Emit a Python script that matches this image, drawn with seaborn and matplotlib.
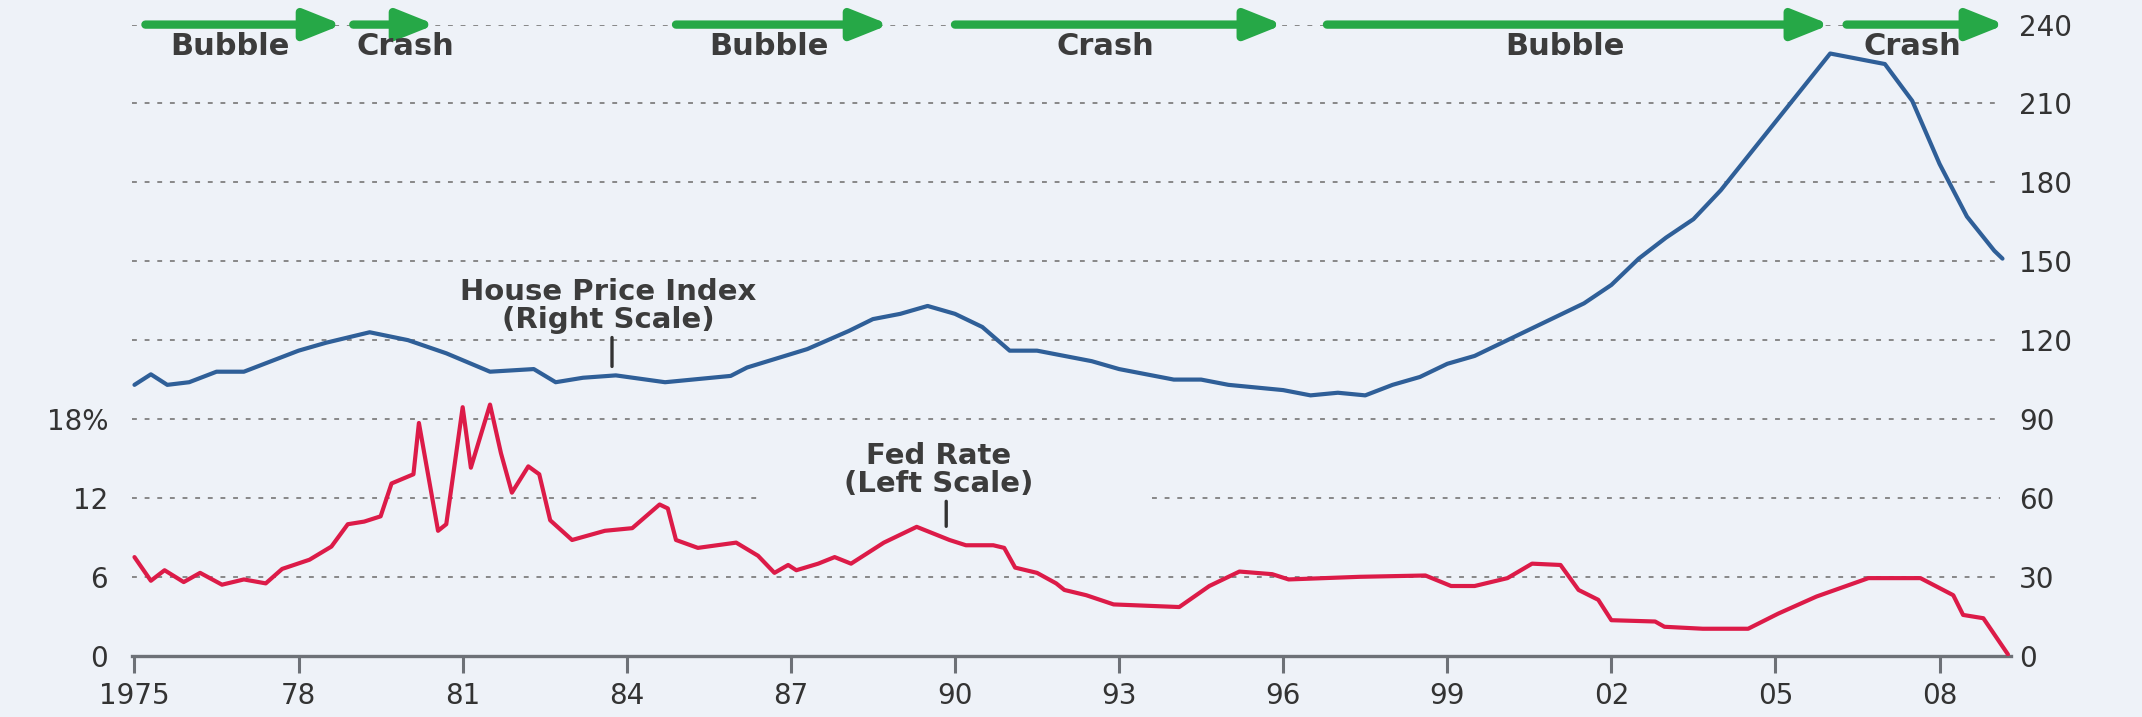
import matplotlib
matplotlib.use("Agg")
import matplotlib.pyplot as plt
import seaborn as sns
import pandas as pd

# Fed funds rate, left scale (%)
fed_year = [1975.0, 1975.3, 1975.55, 1975.9, 1976.2, 1976.6, 1977.0, 1977.4, 1977.7, 1978.2,
            1978.6, 1978.9, 1979.2, 1979.5, 1979.7, 1980.1, 1980.2, 1980.55, 1980.7, 1981.0,
            1981.15, 1981.5, 1981.7, 1981.9, 1982.2, 1982.4, 1982.6, 1983.0, 1983.6, 1984.1,
            1984.6, 1984.75, 1984.9, 1985.3, 1986.0, 1986.4, 1986.7, 1986.95, 1987.1, 1987.5,
            1987.8, 1988.1, 1988.7, 1989.3, 1989.9, 1990.2, 1990.7, 1990.9, 1991.1, 1991.5,
            1991.85, 1992.0, 1992.4, 1992.9, 1994.1, 1994.65, 1995.2, 1995.8, 1996.1, 1997.4,
            1998.6, 1999.07, 1999.5, 2000.1, 2000.55, 2001.07, 2001.4, 2001.76, 2002.0, 2002.8,
            2002.97, 2003.67, 2004.5, 2005.05, 2005.75, 2006.7, 2007.65, 2008.25, 2008.43, 2008.8,
            2009.25]
fed_rate = [7.5, 5.7, 6.5, 5.6, 6.3, 5.4, 5.8, 5.5, 6.6, 7.3,
            8.3, 10.0, 10.2, 10.6, 13.1, 13.8, 17.7, 9.5, 10.0, 18.9,
            14.3, 19.1, 15.4, 12.4, 14.4, 13.8, 10.3, 8.8, 9.5, 9.7,
            11.5, 11.2, 8.8, 8.2, 8.6, 7.6, 6.3, 6.9, 6.5, 7.0,
            7.5, 7.0, 8.6, 9.8, 8.8, 8.4, 8.4, 8.2, 6.7, 6.3,
            5.5, 5.0, 4.6, 3.9, 3.7, 5.3, 6.4, 6.2, 5.8, 6.0,
            6.1, 5.3, 5.3, 5.9, 7.0, 6.9, 5.0, 4.25, 2.7, 2.6,
            2.2, 2.05, 2.05, 3.2, 4.5, 5.9, 5.9, 4.6, 3.1, 2.85,
            0.1]

# House price index, right scale
hpi_year = [1975.0, 1975.3, 1975.6, 1976.0, 1976.5, 1977.0, 1977.5, 1978.0, 1978.5, 1978.9,
            1979.3, 1980.0, 1980.7, 1981.5, 1982.3, 1982.7, 1983.2, 1983.8, 1984.7, 1985.9,
            1986.2, 1987.3, 1988.06, 1988.5, 1989.0, 1989.5, 1990.0, 1990.5, 1991.0, 1991.5,
            1992.0, 1992.5, 1993.0, 1993.5, 1994.0, 1994.5, 1995.0, 1995.5, 1996.0, 1996.5,
            1997.0, 1997.5, 1998.0, 1998.5, 1999.0, 1999.5, 2000.0, 2000.5, 2001.0, 2001.5,
            2002.0, 2002.5, 2003.0, 2003.5, 2004.0, 2004.5, 2005.0, 2005.5, 2006.0, 2006.5,
            2007.0, 2007.5, 2008.0, 2008.5, 2009.0, 2009.15]
hpi_value = [103, 107, 103, 104, 108, 108, 112, 116, 119, 121,
             123, 120, 115, 108, 109, 104, 105.7, 106.6, 104, 106.4,
             109.6, 116.6, 123.5, 128, 130, 133, 130, 125, 116, 116,
             114, 112, 109, 107, 105, 105, 103, 102, 101, 99,
             100, 99, 103, 106, 111, 114, 119, 124, 129, 134,
             141, 151, 159, 166, 177, 190, 203, 216, 229, 227,
             225, 211, 187, 167, 154, 151]

# bubble / crash phases (arrows along the top)
phase_label = ["Bubble", "Crash", "Bubble", "Crash", "Bubble", "Crash"]
phase_start = [1975.2, 1979.0, 1984.9, 1990.0, 1996.8, 2006.3]
phase_end = [1978.8, 1980.5, 1988.8, 1996.0, 2006.0, 2009.2]

year_ticks = list(range(1975, 2009, 3))
year_labels = ["1975", "78", "81", "84", "87", "90", "93", "96", "99", "02", "05", "08"]
left_ticks = [0, 6, 12, 18]
left_labels = ["0", "6", "12", "18%"]
right_ticks = [0, 30, 60, 90, 120, 150, 180, 210, 240]

BG = "#eef2f8"
RED = "#dc1b48"
BLUE = "#2f5f98"
GREEN = "#26a847"
TEXT = "#333333"
LABEL = "#3c3c3c"
AXIS = "#6d7177"
GRID = "#888888"

sns.set_theme(style="white")
plt.rcParams["font.family"] = ["DejaVu Sans"]

fig = plt.figure(figsize=(21.42, 7.17), dpi=100, facecolor=BG)
ax = fig.add_axes([0.0615, 0.0855, 0.8772, 0.8802])
ax.set_facecolor(BG)
ax2 = ax.twinx()

x0, x1 = 1974.95, 2009.3
scale = 5  # right scale / left scale

# dotted grid, drawn in left-axis units; gap behind the Fed Rate label
gap = (1986.4, 1993.6)
for v in right_ticks[1:]:
    lv = v / scale
    segs = [(x0, gap[0]), (gap[1], 2009.1)] if lv == 12 else [(x0, 2009.1)]
    for a, b in segs:
        ax.hlines(lv, a, b, colors=GRID, linestyles=(0, (2.5, 4)), lw=1.4, zorder=1)

fed = pd.DataFrame({"year": fed_year, "rate": fed_rate})
hpi = pd.DataFrame({"year": hpi_year, "hpi": hpi_value})
sns.lineplot(data=fed, x="year", y="rate", ax=ax, color=RED, lw=3.0, zorder=3)
sns.lineplot(data=hpi, x="year", y="hpi", ax=ax2, color=BLUE, lw=3.0, zorder=3)

ax.set_xlim(x0, x1)
ax.set_ylim(0, 240 / scale)
ax2.set_ylim(0, 240)
for a in (ax, ax2):
    a.set_xlabel("")
    a.set_ylabel("")
    for s in a.spines.values():
        s.set_visible(False)
ax.spines["bottom"].set_visible(True)
ax.spines["bottom"].set_color(AXIS)
ax.spines["bottom"].set_linewidth(2.4)

ax.set_xticks(year_ticks)
ax.set_xticklabels(year_labels)
ax.set_yticks(left_ticks)
ax.set_yticklabels(left_labels)
ax2.set_yticks(right_ticks)
ax.tick_params(axis="x", length=12, width=2.2, color=AXIS, pad=7, labelsize=20, labelcolor=TEXT,
               direction="out", bottom=True)
ax.tick_params(axis="y", length=0, pad=17, labelsize=20, labelcolor=TEXT)
ax2.tick_params(axis="y", length=0, pad=6, labelsize=20, labelcolor=TEXT)

# phase arrows along the 240 line
for lab, s, e in zip(phase_label, phase_start, phase_end):
    ax2.annotate("", xy=(e, 240), xytext=(s, 240), annotation_clip=False,
                 arrowprops=dict(arrowstyle="-|>,head_length=0.75,head_width=0.3",
                                 mutation_scale=30, lw=6, color=GREEN,
                                 shrinkA=0, shrinkB=0))
    if e - s < 2:
        ax2.text(s + 0.05, 231.5, lab, ha="left", va="center", fontsize=22,
                 fontweight="bold", color=LABEL)
    else:
        ax2.text((s + e) / 2 - 0.25, 231.5, lab, ha="center", va="center", fontsize=22,
                 fontweight="bold", color=LABEL)

# series labels with short leader ticks
ax2.text(1983.66, 132.8, "House Price Index\n(Right Scale)", ha="center", va="center",
         fontsize=21, fontweight="bold", color=LABEL, linespacing=1.0)
ax2.annotate("", xy=(1983.73, 110), xytext=(1983.73, 121),
             arrowprops=dict(arrowstyle="-", lw=2.4, color=TEXT, shrinkA=0, shrinkB=0))
ax.text(1989.7, 14.16, "Fed Rate\n(Left Scale)", ha="center", va="center",
        fontsize=21, fontweight="bold", color=LABEL, linespacing=1.0)
ax.annotate("", xy=(1989.84, 9.84), xytext=(1989.84, 11.74),
            arrowprops=dict(arrowstyle="-", lw=2.4, color=TEXT, shrinkA=0, shrinkB=0))

fig.savefig("out.png", dpi=100, facecolor=BG)
